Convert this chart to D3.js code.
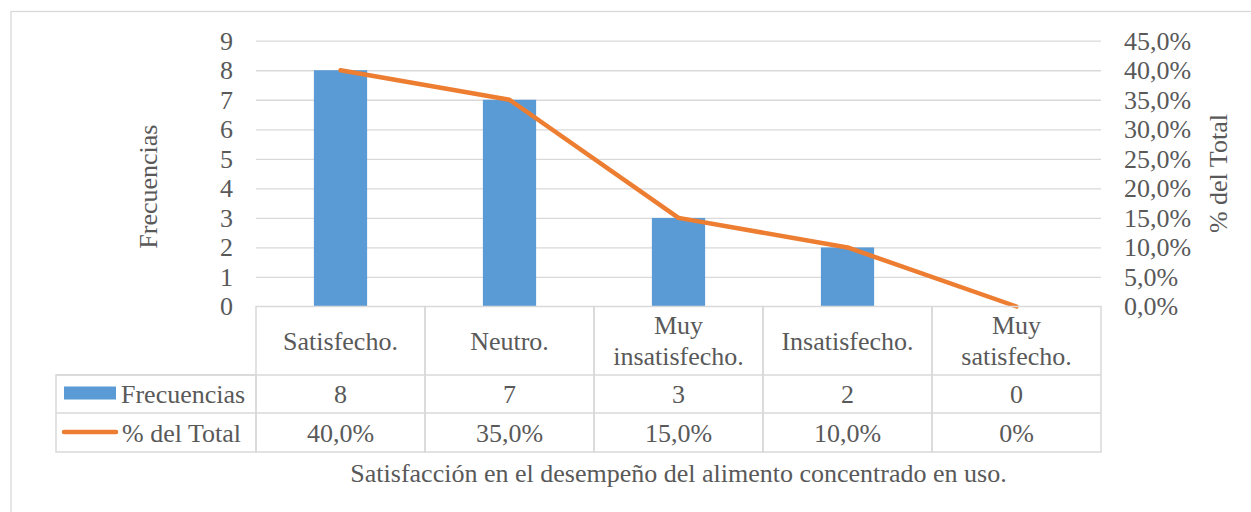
<!DOCTYPE html>
<meta charset="utf-8">
<style>
    body { margin: 0; background: #fff; }
    svg, svg text { font-family: "Liberation Serif", "Times New Roman", serif; }
    .axis path { display: none; }
    .axis text { fill: #595959; font-size: 26px; font-family: "Liberation Serif", serif; }
    .grid line { stroke: #d9d9d9; stroke-width: 1.3; }
    .grid path { display: none; }
    .cell { fill: none; stroke: #d9d9d9; stroke-width: 1.5; }
    .tbl { fill: #595959; font-size: 26px; text-anchor: middle; }
</style>
<body>
<script src="https://cdn.jsdelivr.net/npm/d3@7"></script>
<script>
    // chart values
    const categories = ["Satisfecho.", "Neutro.", "Muy insatisfecho.", "Insatisfecho.", "Muy satisfecho."];
    const frecuencias = [8, 7, 3, 2, 0];
    const porcentajes = [0.40, 0.35, 0.15, 0.10, 0];
    const pctLabels = ["40,0%", "35,0%", "15,0%", "10,0%", "0%"];
    const leftTicks = [0, 1, 2, 3, 4, 5, 6, 7, 8, 9];
    const rightTicks = [0, 0.05, 0.10, 0.15, 0.20, 0.25, 0.30, 0.35, 0.40, 0.45];
    const seriesNames = ["Frecuencias", "% del Total"];
    const xTitle = "Satisfacción en el desempeño del alimento concentrado en uso.";

    const width = 1251, height = 512;
    const plot = {left: 256, right: 1101, top: 40.7, bottom: 306.5};
    const rows = [306.5, 375, 413, 452];   // table row edges
    const legendLeft = 56;
    const fs = "26px";

    const svg = d3.select("body").append("svg")
        .attr("width", width)
        .attr("height", height);

    // outer chart border
    svg.append("rect")
        .attr("x", 11).attr("y", 11.5)
        .attr("width", width + 10).attr("height", height + 10)
        .attr("fill", "none").attr("stroke", "#d9d9d9").attr("stroke-width", 1.3);

    const x = d3.scaleBand().domain(categories).range([plot.left, plot.right]);
    const yL = d3.scaleLinear().domain([0, 9]).range([plot.bottom, plot.top]);
    const yR = d3.scaleLinear().domain([0, 0.45]).range([plot.bottom, plot.top]);

    const fmtPct = d => d3.format(".1%")(d).replace(".", ",");

    // gridlines
    svg.append("g")
        .attr("class", "grid")
        .attr("transform", "translate(" + plot.left + ",0)")
        .call(d3.axisLeft(yL).tickValues(leftTicks.slice(1)).tickSize(-(plot.right - plot.left)).tickFormat(""));

    // left axis
    svg.append("g")
        .attr("class", "axis")
        .attr("transform", "translate(233,0)")
        .call(d3.axisLeft(yL).tickValues(leftTicks).tickSize(0).tickPadding(0).tickFormat(d3.format("d")));

    // right axis
    svg.append("g")
        .attr("class", "axis")
        .attr("transform", "translate(1124,0)")
        .call(d3.axisRight(yR).tickValues(rightTicks).tickSize(0).tickPadding(0).tickFormat(fmtPct));

    // axis titles
    svg.append("text")
        .attr("transform", "translate(157," + ((plot.top + plot.bottom) / 2 + 13) + ") rotate(-90)")
        .attr("text-anchor", "middle")
        .attr("fill", "#595959").style("font-size", fs)
        .text(seriesNames[0]);

    svg.append("text")
        .attr("transform", "translate(1227," + ((plot.top + plot.bottom) / 2) + ") rotate(-90)")
        .attr("text-anchor", "middle")
        .attr("fill", "#595959").style("font-size", fs)
        .text(seriesNames[1]);

    // bars
    const barW = x.bandwidth() * 0.315;
    svg.append("g").selectAll("rect")
        .data(categories)
        .enter().append("rect")
        .attr("x", (d) => x(d) + (x.bandwidth() - barW) / 2)
        .attr("y", (d, i) => yL(frecuencias[i]))
        .attr("width", barW)
        .attr("height", (d, i) => plot.bottom - yL(frecuencias[i]))
        .attr("fill", "#5b9bd5");

    // line
    const line = d3.line()
        .x((d, i) => x(categories[i]) + x.bandwidth() / 2)
        .y(d => yR(d));

    svg.append("path")
        .datum(porcentajes)
        .attr("d", line)
        .attr("fill", "none")
        .attr("stroke", "#ed7d31")
        .attr("stroke-width", 4.5)
        .attr("stroke-linejoin", "round")
        .attr("stroke-linecap", "round");

    // data table
    const table = svg.append("g");

    // category cells
    categories.forEach((c, i) => {
        const x0 = x(c);
        table.append("rect").attr("class", "cell")
            .attr("x", x0).attr("y", rows[0])
            .attr("width", x.bandwidth()).attr("height", rows[3] - rows[0]);
        const words = c.split(" ");
        const cx = x0 + x.bandwidth() / 2;
        const cy = (rows[0] + rows[1]) / 2;
        const t = table.append("text").attr("class", "tbl").attr("x", cx);
        words.forEach((w, j) => {
            t.append("tspan")
                .attr("x", cx)
                .attr("y", cy + (j - (words.length - 1) / 2) * 31 + 9)
                .text(w);
        });
        table.append("text").attr("class", "tbl")
            .attr("x", cx).attr("y", (rows[1] + rows[2]) / 2 + 9)
            .text(frecuencias[i]);
        table.append("text").attr("class", "tbl")
            .attr("x", cx).attr("y", (rows[2] + rows[3]) / 2 + 9)
            .text(pctLabels[i]);
    });

    // horizontal row lines
    [rows[1], rows[2]].forEach(r => {
        table.append("line").attr("class", "cell")
            .attr("x1", legendLeft).attr("x2", plot.right)
            .attr("y1", r).attr("y2", r);
    });

    // legend cells
    table.append("rect").attr("class", "cell")
        .attr("x", legendLeft).attr("y", rows[1])
        .attr("width", plot.left - legendLeft).attr("height", rows[3] - rows[1]);

    table.append("rect")
        .attr("x", 64).attr("y", 386.5)
        .attr("width", 52).attr("height", 13)
        .attr("fill", "#5b9bd5");
    table.append("text")
        .attr("x", 121).attr("y", (rows[1] + rows[2]) / 2 + 9)
        .attr("fill", "#595959").style("font-size", fs)
        .text(seriesNames[0]);

    table.append("line")
        .attr("x1", 64).attr("x2", 116)
        .attr("y1", 432).attr("y2", 432)
        .attr("stroke", "#ed7d31").attr("stroke-width", 4.5)
        .attr("stroke-linecap", "round");
    table.append("text")
        .attr("x", 122).attr("y", (rows[2] + rows[3]) / 2 + 9)
        .attr("fill", "#595959").style("font-size", fs)
        .text(seriesNames[1]);

    // x title
    svg.append("text")
        .attr("x", (plot.left + plot.right) / 2)
        .attr("y", 482)
        .attr("text-anchor", "middle")
        .attr("fill", "#595959").style("font-size", fs)
        .text(xTitle);
</script>
</body>
</html>
